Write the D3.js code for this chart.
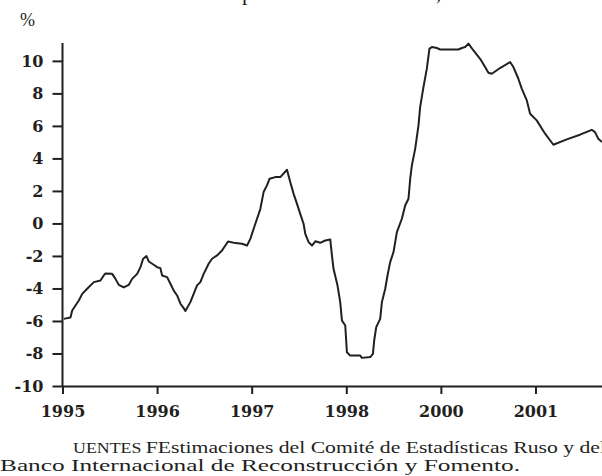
<!DOCTYPE html>
<html>
<head>
<meta charset="utf-8">
<script src="https://cdn.jsdelivr.net/npm/d3@7"></script>
<style>
  body { margin: 0; background: #fff; }
  svg { display: block; }
</style>
</head>
<body>
<svg width="602" height="476"></svg>
<script>
// months since Jan 1995
var months = [0.16, 1.01, 1.23, 1.65, 2.07, 2.5, 3.13, 3.97, 4.82, 5.23, 5.45, 6.3, 6.72, 7.14, 7.77, 8.4, 8.83, 9.47, 9.89, 10.23,
  10.65, 10.94, 11.57, 12.0, 12.42, 12.64, 13.27, 13.69, 14.11, 14.54, 14.96, 15.37, 15.59, 16.22, 16.64, 17.07, 17.49, 17.91, 18.54, 18.97,
  19.61, 20.24, 20.66, 21.0, 21.93, 22.78, 23.41, 23.83, 24.25, 24.68, 25.1, 25.51, 25.94, 26.27, 26.99, 27.63, 28.48, 28.9, 29.32, 29.75,
  30.16, 30.58, 30.8, 31.22, 31.65, 32.07, 32.7, 33.33, 33.97, 34.18, 34.38, 34.89, 35.23, 35.45, 35.87, 36.08, 36.5, 37.77, 37.98, 39.04,
  39.38, 39.54, 39.8, 40.3, 40.52, 40.94, 41.23, 41.57, 41.99, 42.42, 43.05, 43.47, 43.89, 44.11, 44.32, 44.74, 45.16, 45.37, 45.79, 46.22,
  46.55, 46.86, 47.49, 47.91, 50.23, 50.66, 51.08, 51.5, 52.13, 52.98, 53.61, 54.03, 54.46, 55.51, 56.78, 57.2, 57.83, 58.26, 58.9, 59.32,
  60.16, 61.22, 62.27, 63.97, 65.65, 67.14, 67.55, 67.97, 68.44];

var values = [-5.87, -5.79, -5.36, -5.05, -4.74, -4.33, -4.02, -3.61, -3.51, -3.2, -3.08, -3.1, -3.41, -3.78, -3.94, -3.78, -3.41, -3.1, -2.69, -2.17,
  -2.01, -2.34, -2.54, -2.69, -2.75, -3.2, -3.3, -3.71, -4.13, -4.43, -4.94, -5.21, -5.38, -4.84, -4.33, -3.81, -3.61, -3.1, -2.48, -2.17,
  -1.97, -1.66, -1.36, -1.11, -1.21, -1.25, -1.36, -0.95, -0.33, 0.29, 0.9, 1.93, 2.34, 2.75, 2.85, 2.85, 3.3, 2.54, 1.82, 1.2,
  0.59, -0.02, -0.64, -1.15, -1.36, -1.1, -1.19, -1.05, -0.99, -1.97, -2.79, -3.82, -4.84, -5.97, -6.28, -7.92, -8.13, -8.13, -8.27, -8.22,
  -8.02, -7.2, -6.38, -5.87, -4.84, -4.02, -3.2, -2.38, -1.76, -0.53, 0.29, 1.1, 1.52, 2.75, 3.57, 4.59, 6.03, 7.16, 8.39, 9.52,
  10.75, 10.85, 10.79, 10.7, 10.7, 10.79, 10.85, 11.06, 10.64, 10.13, 9.62, 9.27, 9.21, 9.56, 9.93, 9.62, 8.9, 8.29, 7.57, 6.75,
  6.34, 5.52, 4.84, 5.17, 5.46, 5.76, 5.62, 5.21, 5.01];

var yTicks = [-10, -8, -6, -4, -2, 0, 2, 4, 6, 8, 10];
var xTickMonths = [0, 12, 24, 36, 48, 60];
var xTickLabels = ["1995", "1996", "1997", "1998", "2000", "2001"];

var titleText = "Tasa de interés real a corto plazo en tasas anuales, %";
var sourceLine1a = "UENTES ";
var sourceLine1b = "FEstimaciones del Comité de Estadísticas Ruso y del";
var sourceLine2 = "Banco Internacional de Reconstrucción y Fomento.";

var svg = d3.select("svg"),
  width = +svg.attr("width"),
  height = +svg.attr("height");

var ink = "#231f20";
var plotLeft = 62.5, plotBottom = 386, plotTop = 43;

var x = d3.scaleLinear().domain([0, 68.44]).range([plotLeft, 602]);
var y = d3.scaleLinear().domain([-10, 11.1]).range([plotBottom, plotTop]);

// title, mostly cut off at top edge
var title = svg.append("text")
  .attr("y", 0)
  .attr("font-family", "Liberation Serif, serif")
  .attr("font-size", 22)
  .attr("fill", ink)
  .text(titleText);
var pIdx = titleText.indexOf("p");
var pOff = title.node().getSubStringLength(0, pIdx);
title.attr("x", 242 - pOff);

svg.append("text")
  .attr("x", 20)
  .attr("y", 26)
  .attr("font-family", "Liberation Serif, serif")
  .attr("font-size", 18)
  .attr("fill", ink)
  .text("%");

// y axis (plain hyphen for negatives, as in the original)
var yAxis = svg.append("g")
  .attr("transform", "translate(" + plotLeft + ",0)")
  .call(d3.axisLeft(y).tickValues(yTicks).tickSize(10).tickPadding(9).tickSizeOuter(0)
    .tickFormat(function (d) { return String(d); }));
yAxis.select(".domain").attr("d", "M0," + plotTop + "V" + plotBottom);
yAxis.selectAll("text")
  .attr("font-family", "DejaVu Serif, serif")
  .attr("font-weight", "bold")
  .attr("font-size", 16);

// x axis
var xAxis = svg.append("g")
  .attr("transform", "translate(0," + plotBottom + ")")
  .call(d3.axisBottom(x).tickValues(xTickMonths).tickSize(8).tickPadding(12).tickSizeOuter(0)
    .tickFormat(function (d, i) { return xTickLabels[i]; }));
xAxis.selectAll("text")
  .attr("font-family", "DejaVu Serif, serif")
  .attr("font-weight", "bold")
  .attr("font-size", 16);

svg.selectAll(".domain, .tick line")
  .attr("stroke", ink)
  .attr("stroke-width", 2);
svg.selectAll(".tick text").attr("fill", ink);

// series line
var pts = months.map(function (m, i) { return [m, values[i]]; });
var line = d3.line()
  .x(function (d) { return x(d[0]); })
  .y(function (d) { return y(d[1]); });

svg.append("path")
  .datum(pts)
  .attr("fill", "none")
  .attr("stroke", ink)
  .attr("stroke-width", 2)
  .attr("stroke-linejoin", "round")
  .attr("d", line);

// source note
var s1 = svg.append("text")
  .attr("x", 73)
  .attr("y", 453)
  .attr("font-family", "Liberation Serif, serif")
  .attr("font-size", 17)
  .attr("fill", ink)
  .attr("textLength", 533)
  .attr("lengthAdjust", "spacingAndGlyphs");
s1.append("tspan").attr("font-size", 14).text(sourceLine1a);
s1.append("tspan").text(sourceLine1b);

svg.append("text")
  .attr("x", 0)
  .attr("y", 471)
  .attr("font-family", "Liberation Serif, serif")
  .attr("font-size", 17)
  .attr("fill", ink)
  .attr("textLength", 520)
  .attr("lengthAdjust", "spacingAndGlyphs")
  .text(sourceLine2);
</script>
</body>
</html>
